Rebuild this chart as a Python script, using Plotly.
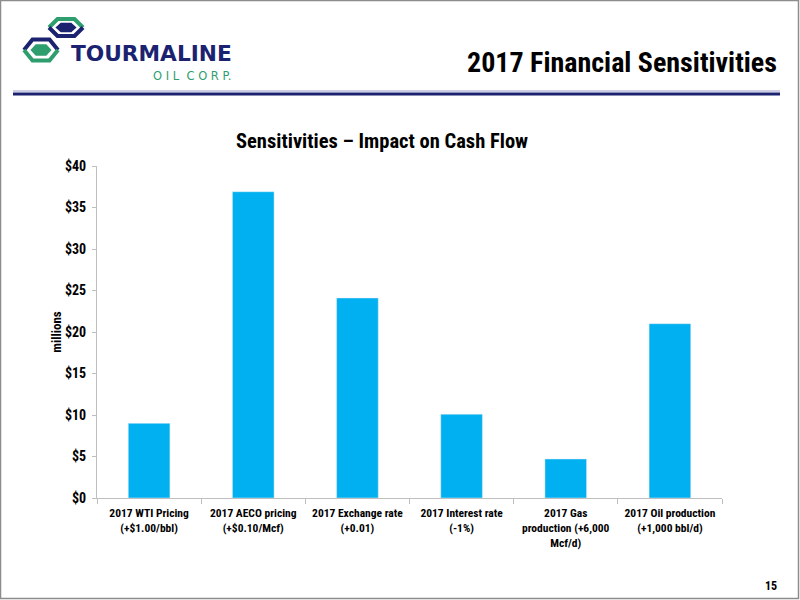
import plotly.graph_objects as go

categories = [
    "2017 WTI Pricing<br>(+$1.00/bbl)",
    "2017 AECO pricing<br>(+$0.10/Mcf)",
    "2017 Exchange rate<br>(+0.01)",
    "2017 Interest rate<br>(-1%)",
    "2017 Gas<br>production (+6,000<br>Mcf/d)",
    "2017 Oil production<br>(+1,000 bbl/d)",
]
impact_millions = [9.0, 36.9, 24.1, 10.1, 4.7, 21.0]
y_tick_values = [0, 5, 10, 15, 20, 25, 30, 35, 40]
y_tick_labels = ["$0", "$5", "$10", "$15", "$20", "$25", "$30", "$35", "$40"]

W, H = 800, 600
ML, MR, MT, MB = 97, 78, 166, 102
PW, PH = W - ML - MR, H - MT - MB
FONT = "Liberation Sans Narrow, Roboto Condensed, Arial Narrow, Liberation Sans, sans-serif"
NAVY = "#1B2370"
GREEN = "#2F9E6E"


def fx(px):
    return (px - ML) / PW


def fy(py):
    return (H - MB - py) / PH


def hex_path(cx, cy, w, h):
    pts = [(cx - w / 2, cy), (cx - w / 4, cy - h / 2), (cx + w / 4, cy - h / 2),
           (cx + w / 2, cy), (cx + w / 4, cy + h / 2), (cx - w / 4, cy + h / 2)]
    return "M " + " L ".join(f"{fx(x):.5f},{fy(y):.5f}" for x, y in pts) + " Z"


def poly_path(pts):
    return "M " + " L ".join(f"{fx(x):.5f},{fy(y):.5f}" for x, y in pts)


fig = go.Figure(go.Bar(
    x=categories, y=impact_millions, marker_color="#00B0F0", width=0.4,
    hoverinfo="skip",
))

shapes = []
# page border
shapes.append(dict(type="rect", xref="paper", yref="paper",
                   x0=fx(0.5), x1=fx(798.5), y0=fy(0.5), y1=fy(598.5),
                   line=dict(color="#8C8C8C", width=1.5), fillcolor="rgba(0,0,0,0)", layer="below"))
# header rules
shapes.append(dict(type="line", xref="paper", yref="paper",
                   x0=fx(13), x1=fx(780), y0=fy(91), y1=fy(91),
                   line=dict(color="#9A9ACC", width=1)))
shapes.append(dict(type="line", xref="paper", yref="paper",
                   x0=fx(13), x1=fx(780), y0=fy(94), y1=fy(94),
                   line=dict(color=NAVY, width=3)))


def hex_logo(cx, cy, w, h, top_col, bot_col, inner_col):
    out = []
    L = (cx - w / 2, cy)
    UL = (cx - w / 4, cy - h / 2)
    UR = (cx + w / 4, cy - h / 2)
    R = (cx + w / 2, cy)
    LR = (cx + w / 4, cy + h / 2)
    LL = (cx - w / 4, cy + h / 2)
    out.append(dict(type="path", xref="paper", yref="paper", path=poly_path([L, UL, UR, R]),
                    line=dict(color=top_col, width=4)))
    out.append(dict(type="path", xref="paper", yref="paper", path=poly_path([L, LL, LR, R]),
                    line=dict(color=bot_col, width=4)))
    out.append(dict(type="path", xref="paper", yref="paper", path=hex_path(cx, cy, w * 0.62, h * 0.55),
                    fillcolor=inner_col, line=dict(color=inner_col, width=0)))
    return out


shapes += hex_logo(66, 27.5, 34, 17, GREEN, NAVY, NAVY)
shapes += hex_logo(41, 50, 34, 21, NAVY, GREEN, GREEN)

annotations = [
    dict(text="<b>TOURMALINE</b>", x=fx(69), y=fy(53.5), xref="paper", yref="paper",
         xanchor="left", yanchor="middle", showarrow=False,
         font=dict(family="DejaVu Sans, Verdana, sans-serif", size=21.7, color=NAVY)),
    dict(text="O I L  C O R P.", x=fx(233), y=fy(76), xref="paper", yref="paper",
         xanchor="right", yanchor="middle", showarrow=False,
         font=dict(family="DejaVu Sans, sans-serif", size=11.5, color=GREEN)),
    dict(text="<b>2017 Financial Sensitivities</b>", x=fx(779), y=fy(62), xref="paper", yref="paper",
         xanchor="right", yanchor="middle", showarrow=False,
         font=dict(family=FONT, size=28, color="#000000")),
    dict(text="<b>Sensitivities – Impact on Cash Flow</b>", x=fx(382), y=fy(141), xref="paper", yref="paper",
         xanchor="center", yanchor="middle", showarrow=False,
         font=dict(family=FONT, size=20.5, color="#000000")),
    dict(text="<b>15</b>", x=fx(779), y=fy(586), xref="paper", yref="paper",
         xanchor="right", yanchor="middle", showarrow=False,
         font=dict(family=FONT, size=12, color="#000000")),
]

fig.update_layout(
    width=W, height=H,
    margin=dict(l=ML, r=MR, t=MT, b=MB, autoexpand=False),
    paper_bgcolor="white", plot_bgcolor="white",
    showlegend=False,
    bargap=0.6,
    shapes=shapes,
    annotations=annotations,
    font=dict(family=FONT, size=12, color="#000000"),
)
fig.update_yaxes(
    range=[0, 40], tickvals=y_tick_values, ticktext=[f"<b>{t}</b>" for t in y_tick_labels],
    showgrid=False, zeroline=False, showline=True, linecolor="#BFBFBF", linewidth=1,
    ticks="outside", ticklen=4, tickcolor="#BFBFBF", ticklabelstandoff=3,
    tickfont=dict(family=FONT, size=14, color="#000000"),
    title=dict(text="<b>millions</b>", font=dict(family=FONT, size=13, color="#000000"), standoff=0),
)
fig.update_xaxes(
    ticktext=[f"<b>{c}</b>" for c in categories], tickvals=categories,
    tickson="boundaries", ticks="outside", ticklen=5, tickcolor="#BFBFBF",
    showline=True, linecolor="#BFBFBF", linewidth=1, showgrid=False, ticklabelstandoff=4,
    tickangle=0, tickfont=dict(family=FONT, size=11.5, color="#000000"),
)

fig.write_html("out.html", config={"displayModeBar": False},
               post_script="document.body.style.margin='0';")
